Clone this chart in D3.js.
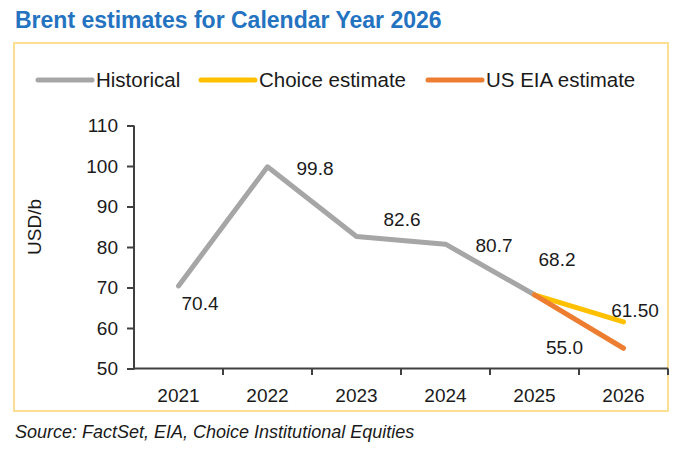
<!DOCTYPE html>
<html>
<head>
<meta charset="utf-8">
<script src="https://cdn.jsdelivr.net/npm/d3@7"></script>
<style>
  html, body { margin: 0; padding: 0; background: #fff; }
  text { font-family: "Liberation Sans", Arial, sans-serif; fill: #1a1a1a; }
</style>
</head>
<body>
<div id="chart"></div>
<script>
// data
var years = ["2021", "2022", "2023", "2024", "2025", "2026"];
var historical = [70.4, 99.8, 82.6, 80.7, 68.2, null];
var choiceEst = [null, null, null, null, 68.2, 61.5];
var eiaEst = [null, null, null, null, 68.2, 55.0];
var yTicks = [50, 60, 70, 80, 90, 100, 110];
var seriesNames = ["Historical", "Choice estimate", "US EIA estimate"];

// label placement (Excel data labels were dragged around by hand)
var histLabelOff = [[21.5, 24.5], [47.5, 8], [45.5, -10], [48.5, 8], [22.5, -29], null];
var choiceLabelOff = [null, null, null, null, null, [11.5, -4.5]];
var eiaLabelOff = [null, null, null, null, null, [-59, 6]];

var W = 679, H = 449;
var colors = ["#a6a6a6", "#ffc000", "#ed7d31"];

var svg = d3.select("#chart").append("svg")
    .attr("width", W)
    .attr("height", H);

// title
svg.append("text")
    .attr("x", 15)
    .attr("y", 28)
    .style("font-size", "23px")
    .style("font-weight", "bold")
    .style("fill", "#2473c1")
    .text("Brent estimates for Calendar Year 2026");

// yellow frame
svg.append("rect")
    .attr("x", 14)
    .attr("y", 43)
    .attr("width", 654)
    .attr("height", 368)
    .style("fill", "none")
    .style("stroke", "#fadf95")
    .style("stroke-width", 2);

var x = d3.scaleBand().domain(years).range([134, 668]).padding(0);
var y = d3.scaleLinear().domain([50, 110]).range([368.5, 125.5]);
var cx = function (d) { return x(d) + x.bandwidth() / 2; };

// y axis
var yAxis = svg.append("g")
    .attr("transform", "translate(134,0)")
    .call(d3.axisLeft(y).tickValues(yTicks).tickSize(7).tickPadding(9));
yAxis.selectAll("text").style("font-size", "19px").style("fill", "#1a1a1a");

// x axis, labels at band centres and ticks at the band edges
var xAxis = svg.append("g")
    .attr("transform", "translate(0,368.5)")
    .call(d3.axisBottom(x).tickSize(0).tickPadding(20));
xAxis.selectAll("text").style("font-size", "19px").style("fill", "#1a1a1a");
xAxis.select(".domain").remove();
yAxis.select(".domain").remove();

svg.selectAll("line.xtick")
    .data(years.slice(1).concat(["end"]))
    .enter().append("line")
    .attr("class", "xtick")
    .attr("x1", function (d) { return d === "end" ? x.range()[1] : x(d); })
    .attr("x2", function (d) { return d === "end" ? x.range()[1] : x(d); })
    .attr("y1", 368.5)
    .attr("y2", 375)
    .style("stroke", "#404040")
    .style("stroke-width", 2);

svg.selectAll(".tick line").style("stroke", "#404040").style("stroke-width", 2);

svg.append("line")
    .attr("x1", 134).attr("x2", 134)
    .attr("y1", y(110)).attr("y2", y(50) + 1)
    .style("stroke", "#404040").style("stroke-width", 2);
svg.append("line")
    .attr("x1", 133).attr("x2", x.range()[1])
    .attr("y1", y(50)).attr("y2", y(50))
    .style("stroke", "#404040").style("stroke-width", 2);

// y axis title
svg.append("text")
    .attr("transform", "translate(41,227) rotate(-90)")
    .attr("text-anchor", "middle")
    .style("font-size", "19px")
    .text("USD/b");

// lines
var line = d3.line()
    .defined(function (d) { return d.v != null; })
    .x(function (d) { return cx(d.year); })
    .y(function (d) { return y(d.v); });

var allSeries = [historical, choiceEst, eiaEst];
var allOffsets = [histLabelOff, choiceLabelOff, eiaLabelOff];
var formats = [d3.format(".1f"), d3.format(".2f"), d3.format(".1f")];

allSeries.forEach(function (vals, i) {
    var pts = years.map(function (yr, j) { return { year: yr, v: vals[j] }; });
    svg.append("path")
        .datum(pts)
        .attr("d", line)
        .style("fill", "none")
        .style("stroke", colors[i])
        .style("stroke-width", 5)
        .style("stroke-linejoin", "round")
        .style("stroke-linecap", "round");
});

// data labels
allSeries.forEach(function (vals, i) {
    years.forEach(function (yr, j) {
        var off = allOffsets[i][j];
        if (vals[j] == null || !off) return;
        svg.append("text")
            .attr("x", cx(yr) + off[0])
            .attr("y", y(vals[j]) + off[1])
            .attr("text-anchor", "middle")
            .style("font-size", "19px")
            .text(formats[i](vals[j]));
    });
});

// legend
var legendX = [38, 201, 428];
var legend = svg.selectAll("g.leg")
    .data(seriesNames)
    .enter().append("g")
    .attr("class", "leg")
    .attr("transform", function (d, i) { return "translate(" + legendX[i] + ",80)"; });
legend.append("line")
    .attr("x1", 0).attr("x2", 54)
    .style("stroke", function (d, i) { return colors[i]; })
    .style("stroke-width", 5)
    .style("stroke-linecap", "round");
legend.append("text")
    .attr("x", 58)
    .attr("y", 7)
    .style("font-size", "20.5px")
    .text(function (d) { return d; });

// source
svg.append("text")
    .attr("x", 15)
    .attr("y", 438)
    .style("font-size", "18px")
    .style("font-style", "italic")
    .text("Source: FactSet, EIA, Choice Institutional Equities");
</script>
</body>
</html>
